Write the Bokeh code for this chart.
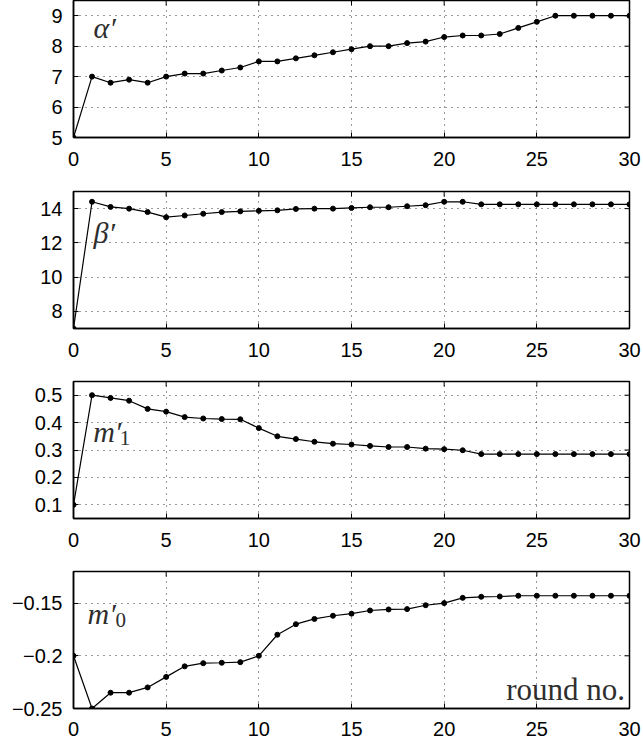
import math
from bokeh.plotting import figure
from bokeh.models import FixedTicker, Range1d, Label
from bokeh.layouts import column
from bokeh.embed import file_html
from bokeh.resources import INLINE

# ---- data ----
rounds = [0, 1, 2, 3, 4, 5, 6, 7, 8, 9, 10, 11, 12, 13, 14, 15,
          16, 17, 18, 19, 20, 21, 22, 23, 24, 25, 26, 27, 28, 29, 30]

alpha = [5.0, 7.0, 6.8, 6.9, 6.8, 7.0, 7.1, 7.1, 7.2, 7.3, 7.5, 7.5, 7.6, 7.7, 7.8, 7.9,
         8.0, 8.0, 8.1, 8.15, 8.3, 8.35, 8.35, 8.4, 8.6, 8.8, 9.0, 9.0, 9.0, 9.0, 9.0]

beta = [7.0, 14.4, 14.1, 14.0, 13.8, 13.5, 13.6, 13.7, 13.8, 13.84, 13.87, 13.9, 13.98, 14.0, 14.0, 14.04,
        14.08, 14.08, 14.14, 14.2, 14.4, 14.4, 14.25, 14.25, 14.25, 14.25, 14.25, 14.25, 14.25, 14.25, 14.25]

m1 = [0.1, 0.5, 0.49, 0.48, 0.45, 0.44, 0.42, 0.415, 0.413, 0.412, 0.38, 0.35, 0.34, 0.33, 0.323, 0.32,
      0.315, 0.311, 0.311, 0.305, 0.303, 0.299, 0.285, 0.285, 0.285, 0.285, 0.285, 0.285, 0.285, 0.285, 0.285]

m0 = [-0.2, -0.25, -0.235, -0.235, -0.23, -0.22, -0.21, -0.207, -0.2066, -0.206, -0.2, -0.18, -0.17, -0.165, -0.162, -0.16,
      -0.157, -0.156, -0.1557, -0.152, -0.15, -0.145, -0.144, -0.1437, -0.143, -0.143, -0.143, -0.143, -0.143, -0.143, -0.143]

x_ticks = [0, 5, 10, 15, 20, 25, 30]
alpha_ticks = [5, 6, 7, 8, 9]
beta_ticks = [8, 10, 12, 14]
m1_ticks = [0.1, 0.2, 0.3, 0.4, 0.5]
m0_ticks = [-0.25, -0.2, -0.15]
m0_tick_labels = ["\u22120.25", "\u22120.2", "\u22120.15"]

TICK_FONT = "Liberation Sans"
TICK_SIZE = "20px"
MATH_FONT = "Liberation Serif"
MATH_COLOR = "#2e2e2e"
X_MIN, X_MAX = 0, 30


def make_panel(values, y_lo, y_hi, yticks, height, top, bottom, x_standoff=14, overrides=None):
    p = figure(width=641, height=height,
               x_range=Range1d(X_MIN, X_MAX), y_range=Range1d(y_lo, y_hi),
               output_backend="svg", toolbar_location=None,
               min_border_left=73, min_border_right=12,
               min_border_top=top, min_border_bottom=bottom)
    p.background_fill_color = "white"
    p.border_fill_color = "white"
    p.outline_line_color = "black"
    p.outline_line_width = 1.5

    for ax, ticks in ((p.xaxis[0], x_ticks), (p.yaxis[0], yticks)):
        ax.ticker = FixedTicker(ticks=ticks)
        ax.major_tick_in = 5
        ax.major_tick_out = 0
        ax.minor_tick_in = 0
        ax.minor_tick_out = 0
        ax.major_tick_line_color = "black"
        ax.axis_line_color = "black"
        ax.axis_line_width = 1.5
        ax.major_label_text_font = TICK_FONT
        ax.major_label_text_font_size = TICK_SIZE
        ax.major_label_text_color = "black"
    p.xaxis[0].major_label_standoff = x_standoff
    p.yaxis[0].major_label_standoff = 11
    if overrides:
        p.yaxis[0].major_label_overrides = overrides

    p.xgrid.ticker = FixedTicker(ticks=x_ticks)
    p.ygrid.ticker = FixedTicker(ticks=yticks)
    for g in (p.xgrid[0], p.ygrid[0]):
        g.grid_line_color = "#333333"
        g.grid_line_dash = "1 5"
        g.grid_line_width = 1

    # inward ticks on the top and right edges of the box
    p.ray(x=x_ticks, y=[y_hi] * len(x_ticks), length=5, length_units="screen",
          angle=-math.pi / 2, line_color="black", line_width=1)
    p.ray(x=[X_MAX] * len(yticks), y=yticks, length=5, length_units="screen",
          angle=math.pi, line_color="black", line_width=1)

    p.line(rounds, values, line_color="black", line_width=1.2)
    p.scatter(rounds, values, size=5, color="black")
    return p


def math_label(p, x, y, text, italic=True, size="30px", align="left"):
    p.add_layout(Label(x=x, y=y, text=text, text_font=MATH_FONT,
                       text_font_style="italic" if italic else "normal",
                       text_font_size=size, text_color=MATH_COLOR,
                       text_baseline="alphabetic", text_align=align))


p1 = make_panel(alpha, 5, 9.5, alpha_ticks, 190, 0, 53)
math_label(p1, 1.08, 8.61, "\u03b1\u2032")

p2 = make_panel(beta, 7, 15, beta_ticks, 190, 1, 52)
math_label(p2, 1.08, 12.59, "\u03b2\u2032")

p3 = make_panel(m1, 0.05, 0.55, m1_ticks, 190, 1, 52)
math_label(p3, 1.06, 0.368, "m\u2032")
math_label(p3, 2.49, 0.343, "1", italic=False, size="21px")

p4 = make_panel(m0, -0.25, -0.12, m0_ticks, 172, 1, 34, x_standoff=13,
                overrides=dict(zip(m0_ticks, m0_tick_labels)))
math_label(p4, 0.755, -0.1603, "m\u2032")
math_label(p4, 2.27, -0.1663, "0", italic=False, size="21px")
math_label(p4, 29.76, -0.2324, "round no.", italic=False, size="31px", align="right")

layout = column(p1, p2, p3, p4, spacing=0)

open("out.html", "w").write(file_html(layout, INLINE))
